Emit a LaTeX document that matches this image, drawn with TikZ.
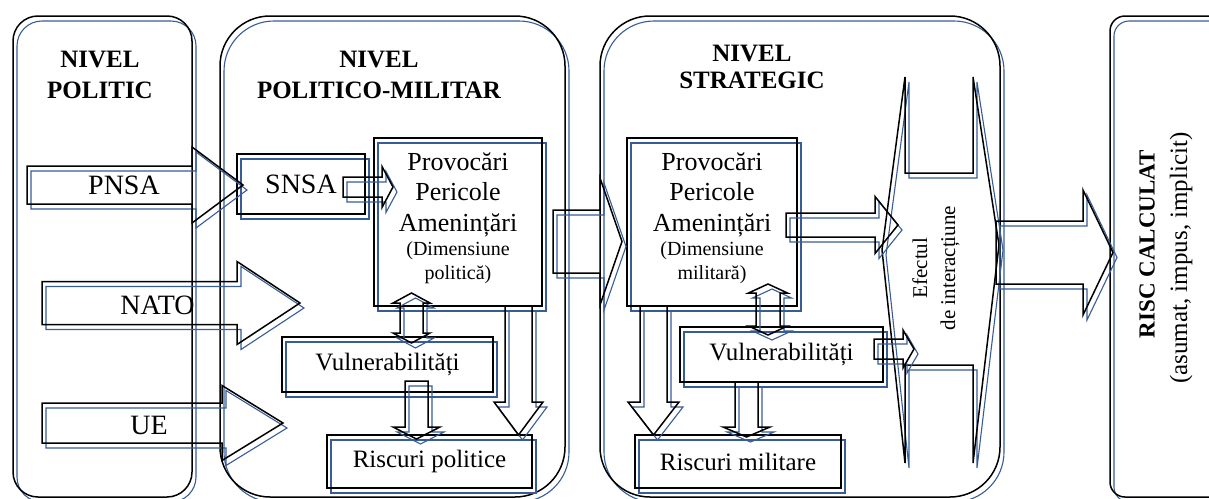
\documentclass[tikz,border=0pt]{standalone}
\usepackage{fontspec}
\setmainfont{Liberation Serif}
\usetikzlibrary{calc}
\definecolor{shblue}{RGB}{55,92,150}

% single block arrow: tail, tip, half shaft width, half head width, head length
\newcommand\blockarrow[5]{%
  \coordinate (ba-h) at ($(#2)!#5!(#1)$);
  \draw[outl] ($(#1)!#3!90:(#2)$) -- ($(ba-h)!#3!90:(#2)$) -- ($(ba-h)!#4!90:(#2)$) -- (#2)
    -- ($(ba-h)!#4!-90:(#2)$) -- ($(ba-h)!#3!-90:(#2)$) -- ($(#1)!#3!-90:(#2)$) -- cycle;}

% double-headed block arrow: tip one, tip two, half shaft width, half head width, head length
\newcommand\dblblockarrow[5]{%
  \coordinate (da-a) at ($(#1)!#5!(#2)$);
  \coordinate (da-b) at ($(#2)!#5!(#1)$);
  \draw[outl] (#1) -- ($(da-a)!#4!90:(#2)$) -- ($(da-a)!#3!90:(#2)$)
    -- ($(da-b)!#3!-90:(#1)$) -- ($(da-b)!#4!-90:(#1)$) -- (#2)
    -- ($(da-b)!#4!90:(#1)$) -- ($(da-b)!#3!90:(#1)$)
    -- ($(da-a)!#3!-90:(#2)$) -- ($(da-a)!#4!-90:(#2)$) -- cycle;}

\tikzset{
  outl/.style={draw=black, line width=1.5pt,
    preaction={draw=shblue, line width=1.1pt, transform canvas={shift={(4pt,-5pt)}}}},
  framebox/.style={outl, rectangle, inner sep=0pt, outer sep=0pt},
  lvl/.style={font=\bfseries\fontsize{25pt}{31pt}\selectfont, align=center, inner sep=0pt},
  tag/.style={font=\fontsize{28pt}{30pt}\selectfont, inner sep=0pt},
  body/.style={font=\fontsize{25pt}{30pt}\selectfont, inner sep=0pt},
  threat/.style={font=\fontsize{26pt}{30.5pt}\selectfont, align=center, inner sep=0pt},
  dimtxt/.style={font=\fontsize{20pt}{24pt}\selectfont, align=center, inner sep=0pt}
}

\begin{document}
\begin{tikzpicture}[x=1pt,y=-1pt]
\useasboundingbox (0,0) rectangle (1209,498);

% the four levels
\node[framebox, rounded corners=25pt, minimum width=179pt, minimum height=481pt] (pPol) at (102.5,256.5) {};
\node[framebox, rounded corners=50pt, minimum width=345pt, minimum height=481pt] (pMil) at (392.5,256.5) {};
\node[framebox, rounded corners=50pt, minimum width=400pt, minimum height=481pt] (pStr) at (800,256.5) {};
\node[framebox, rounded corners=15pt, minimum width=115pt, minimum height=481pt] (pRisc) at (1167.5,256.5) {};

\node[lvl] (tPol) at (100,74.5) {NIVEL\\POLITIC};
\node[lvl] (tMil) at (379,74.5) {NIVEL\\POLITICO-MILITAR};
\node[lvl, font=\bfseries\fontsize{25pt}{27pt}\selectfont] (tStr) at (752,66.5) {NIVEL\\STRATEGIC};

% boxes of the politico-military level
\node[framebox, minimum width=128pt, minimum height=60pt, tag] (snsa) at (301,184) {SNSA};
\node[framebox, minimum width=168pt, minimum height=168pt] (provPol) at (458,222) {};
\node[framebox, minimum width=211pt, minimum height=55pt, body] (vulnPol) at (387.5,364.5) {Vulnerabilități};
\node[framebox, minimum width=205pt, minimum height=53pt, body] (riscPol) at (429.5,461.5) {Riscuri politice};
\node[threat] (provPolTxt) at (458,194.5) {Provocări\\Pericole\\Amenințări};
\node[dimtxt] (provPolDim) at (458,263) {(Dimensiune\\politică)};

% boxes of the strategic level
\node[framebox, minimum width=170pt, minimum height=168pt] (provMil) at (712,222) {};
\node[framebox, minimum width=203pt, minimum height=55pt, body] (vulnMil) at (781.5,354.5) {Vulnerabilități};
\node[framebox, minimum width=206pt, minimum height=53pt, body] (riscMil) at (738,461.5) {Riscuri militare};
\node[threat] (provMilTxt) at (712,194.5) {Provocări\\Pericole\\Amenințări};
\node[dimtxt] (provMilDim) at (712,263) {(Dimensiune\\militară)};

% interaction shape
\draw[outl] (905,77) -- (905,173) -- (973,173) -- (973,77) -- (999,245) -- (973,463)
  -- (973,365) -- (905,365) -- (905,463) -- (882,250) -- cycle;
\node[font=\fontsize{21pt}{28pt}\selectfont, align=center, inner sep=0pt, rotate=90] (efect) at (936,268) {Efectul\\de interacțiune};

% inputs of the political level
\coordinate (pnsaTail) at (27,185);
\coordinate (pnsaTip) at ($(snsa.west)+(6,1)$);
\blockarrow{pnsaTail}{pnsaTip}{19pt}{38pt}{51pt}
\node[tag] (pnsa) at (124,185) {PNSA};

\coordinate (natoTail) at (42,303);
\coordinate (natoTip) at (300,303);
\blockarrow{natoTail}{natoTip}{21.5pt}{41.5pt}{63pt}
\node[tag] (nato) at (157.5,305.5) {NATO};

\coordinate (ueTail) at (42,423);
\coordinate (ueTip) at (283,423);
\blockarrow{ueTail}{ueTip}{20pt}{37.5pt}{61pt}
\node[tag] (ue) at (149,425) {UE};

% politico-military connectors
\coordinate (snsaOut) at ($(snsa.east)+(-22,3)$);
\coordinate (provPolIn) at ($(provPol.west)+(19,-35)$);
\blockarrow{snsaOut}{provPolIn}{10pt}{20.5pt}{11pt}

\coordinate (provPolDn) at ($(provPol.south)+(-46.5,-13)$);
\coordinate (vulnPolUp) at ($(vulnPol.north)+(24,6)$);
\dblblockarrow{provPolDn}{vulnPolUp}{11.5pt}{18.5pt}{10pt}

\coordinate (vulnPolDn) at ($(vulnPol.south)+(29,-11)$);
\coordinate (riscPolUp) at ($(riscPol.north)+(-13,4)$);
\blockarrow{vulnPolDn}{riscPolUp}{11.5pt}{23.5pt}{12pt}

\coordinate (provPolDnR) at ($(provPol.south)+(60.5,0)$);
\coordinate (riscPolUpR) at ($(riscPol.north)+(89,0)$);
\blockarrow{provPolDnR}{riscPolUpR}{13.5pt}{24.5pt}{33pt}

% from the politico-military level to the strategic level
\coordinate (milOut) at ($(pMil.east)+(-12,-15)$);
\coordinate (strIn) at ($(pStr.west)+(22,-15)$);
\blockarrow{milOut}{strIn}{31.5pt}{63.5pt}{22pt}

% strategic connectors
\coordinate (provMilOut) at ($(provMil.east)+(-11,3)$);
\coordinate (efA) at ($(provMil.east)+(101,3)$);
\blockarrow{provMilOut}{efA}{12pt}{28.5pt}{23pt}

\coordinate (provMilDn) at ($(provMil.south)+(56,-22)$);
\coordinate (vulnMilUp) at ($(vulnMil.north)+(-13.5,8)$);
\dblblockarrow{provMilDn}{vulnMilUp}{12pt}{19.5pt}{9pt}

\coordinate (vulnMilOut) at ($(vulnMil.east)+(-9,-5.5)$);
\coordinate (efB) at ($(vulnMil.east)+(31,-5.5)$);
\blockarrow{vulnMilOut}{efB}{10pt}{19pt}{11pt}

\coordinate (vulnMilDn) at ($(vulnMil.south)+(-35,0)$);
\coordinate (riscMilUp) at ($(riscMil.north)+(8.5,2)$);
\blockarrow{vulnMilDn}{riscMilUp}{11.5pt}{23.5pt}{10pt}

\coordinate (provMilDnL) at ($(provMil.south)+(-58.5,0)$);
\coordinate (riscMilUpL) at ($(riscMil.north)+(-84.5,0)$);
\blockarrow{provMilDnL}{riscMilUpL}{13.5pt}{25.5pt}{33pt}

% into the calculated risk
\coordinate (strOut) at ($(pStr.east)+(-4,-4)$);
\coordinate (riscIn) at ($(pRisc.west)+(3,-4)$);
\blockarrow{strOut}{riscIn}{31.5pt}{62.5pt}{30pt}

\node[font=\bfseries\fontsize{23pt}{27pt}\selectfont, inner sep=0pt, rotate=90] (riscTitle) at (1147,244) {RISC CALCULAT};
\node[font=\fontsize{25pt}{28pt}\selectfont, inner sep=0pt, rotate=90] (riscSub) at (1181,258) {(asumat, impus, implicit)};
\end{tikzpicture}
\end{document}
